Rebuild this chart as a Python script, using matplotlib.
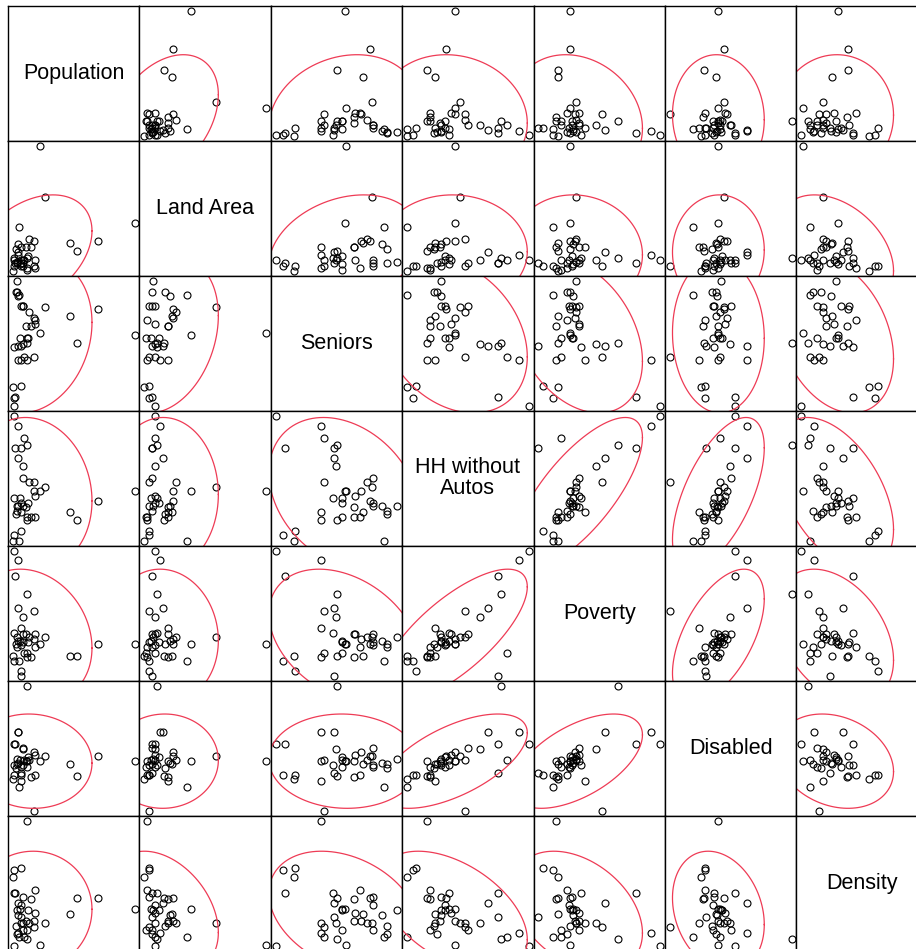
import numpy as np
import matplotlib
matplotlib.use("Agg")
import matplotlib.pyplot as plt

plt.rcParams['font.family'] = ['Liberation Sans', 'DejaVu Sans']

labels = ["Population", "Land Area", "Seniors", "HH without\nAutos",
          "Poverty", "Disabled", "Density"]

# population (thousands)
population = [5.2, 8.1, 6.0, 12.3, 10.1, 15.2, 8.3, 12.0, 20.4, 5.1, 9.2, 97.0, 25.1,
              15.3, 21.0, 20.2, 16.1, 29.0, 69.0, 12.2, 10.0, 12.1, 8.0, 7.1, 6.2, 7.0,
              14.1, 48.0, 21.2, 18.0, 15.0, 53.0, 10.2, 15.1, 5.0, 4.1, 10.0, 9.0]
# land area (sq mi)
land_area = [1.0, 1.4, 0.8, 1.0, 0.8, 1.2, 1.6, 1.0, 0.6, 1.2, 0.7, 3.8, 9.5,
             1.3, 1.0, 2.4, 2.6, 5.7, 2.4, 0.8, 1.0, 0.6, 2.2, 0.8, 1.8, 0.9,
             2.0, 2.3, 0.4, 2.0, 0.3, 1.7, 2.0, 0.4, 0.6, 0.2, 0.6, 3.5]
# % seniors
seniors = [1.75, 9.25, 3.25, 9.75, 11.5, 12.0, 11.5, 11.75, 9.75, 11.25, 12.75, 13.25, 13.5,
           12.75, 15.0, 16.0, 17.0, 17.75, 17.5, 18.0, 18.0, 18.0, 19.5, 20.25, 20.25, 22.0,
           14.75, 16.25, 15.75, 14.75, 12.75, 12.0, 9.25, 9.25, 3.0, 4.75, 5.0, 19.75]
# % households without autos
hh_no_auto = [34.4, 32.0, 26.4, 28.8, 26.4, 27.2, 24.0, 22.0, 18.0, 14.0, 14.0, 15.6, 15.6,
              12.8, 14.4, 15.6, 18.0, 16.8, 13.2, 18.8, 12.8, 12.0, 12.0, 10.8, 10.0, 12.0,
              11.6, 10.4, 9.2, 9.2, 9.2, 8.4, 10.4, 8.4, 4.8, 3.2, 5.6, 3.2]
# % poverty
poverty = [45.5, 42.5, 37.5, 12.5, 5.0, 31.5, 27.0, 24.0, 26.0, 19.0, 16.5, 15.5, 15.5,
           16.0, 18.5, 17.0, 17.5, 17.5, 15.5, 18.5, 15.0, 16.0, 16.5, 14.5, 15.5, 17.5,
           18.5, 11.5, 14.5, 11.0, 12.5, 11.5, 20.5, 11.0, 10.0, 11.5, 6.5, 10.0]
# % disabled
disabled = [10.4, 12.2, 10.4, 8.0, 6.0, 19.0, 12.2, 9.6, 0.4, 7.2, 8.0, 7.8, 7.8,
            8.4, 8.8, 9.2, 8.0, 8.6, 8.6, 9.8, 7.0, 7.2, 7.6, 7.4, 6.8, 8.2,
            7.8, 7.4, 5.8, 5.4, 7.0, 5.6, 4.8, 7.8, 5.8, 5.2, 5.8, 4.0]
# persons per sq mi
density = [600, 2600, 8600, 2000, 5000, 1600, 7000, 4000, 3400, 8600, 6200, 6200, 800,
           6000, 5600, 4400, 4000, 4000, 7800, 3000, 6800, 8000, 5200, 2400, 3600, 6000,
           4400, 5400, 9000, 7600, 3000, 7800, 4000, 19400, 12000, 11000, 12400, 2000]

data = [np.array(v, float) for v in
        [population, land_area, seniors, hh_no_auto, poverty, disabled, density]]
n = len(data)

W, H = 916, 949
fig = plt.figure(figsize=(W / 100, H / 100), dpi=100)

cw, ch = 131.4, 135.0
x0, y0 = 8, 6
t = np.linspace(0, 2 * np.pi, 120)
k = np.sqrt(-2 * np.log(0.05))  # 95% data ellipse


def lims(v):
    r = v.max() - v.min()
    return v.min() - 0.04 * r, v.max() + 0.04 * r


for i in range(n):
    for j in range(n):
        left = (x0 + cw * j) / W
        bottom = 1 - (y0 + ch * (i + 1)) / H
        ax = fig.add_axes([left, bottom, cw / W, ch / H])
        ax.set_xticks([])
        ax.set_yticks([])
        for s in ax.spines.values():
            s.set_linewidth(1.0)
            s.set_color("black")
        if i == j:
            ax.text(0.5, 0.5, labels[i], ha="center", va="center",
                    fontsize=15.5, transform=ax.transAxes, linespacing=1.0)
            continue
        xv, yv = data[j], data[i]
        ax.plot(xv, yv, 'o', mfc='none', mec='black', ms=5, mew=0.8)
        cov = np.cov(xv, yv)
        L = np.linalg.cholesky(cov)
        pts = L @ np.vstack([np.cos(t), np.sin(t)]) * k
        ax.plot(xv.mean() + pts[0], yv.mean() + pts[1], color='#EE3B55', lw=0.9)
        ax.set_xlim(*lims(xv))
        ax.set_ylim(*lims(yv))

fig.savefig("out.png", dpi=100)
